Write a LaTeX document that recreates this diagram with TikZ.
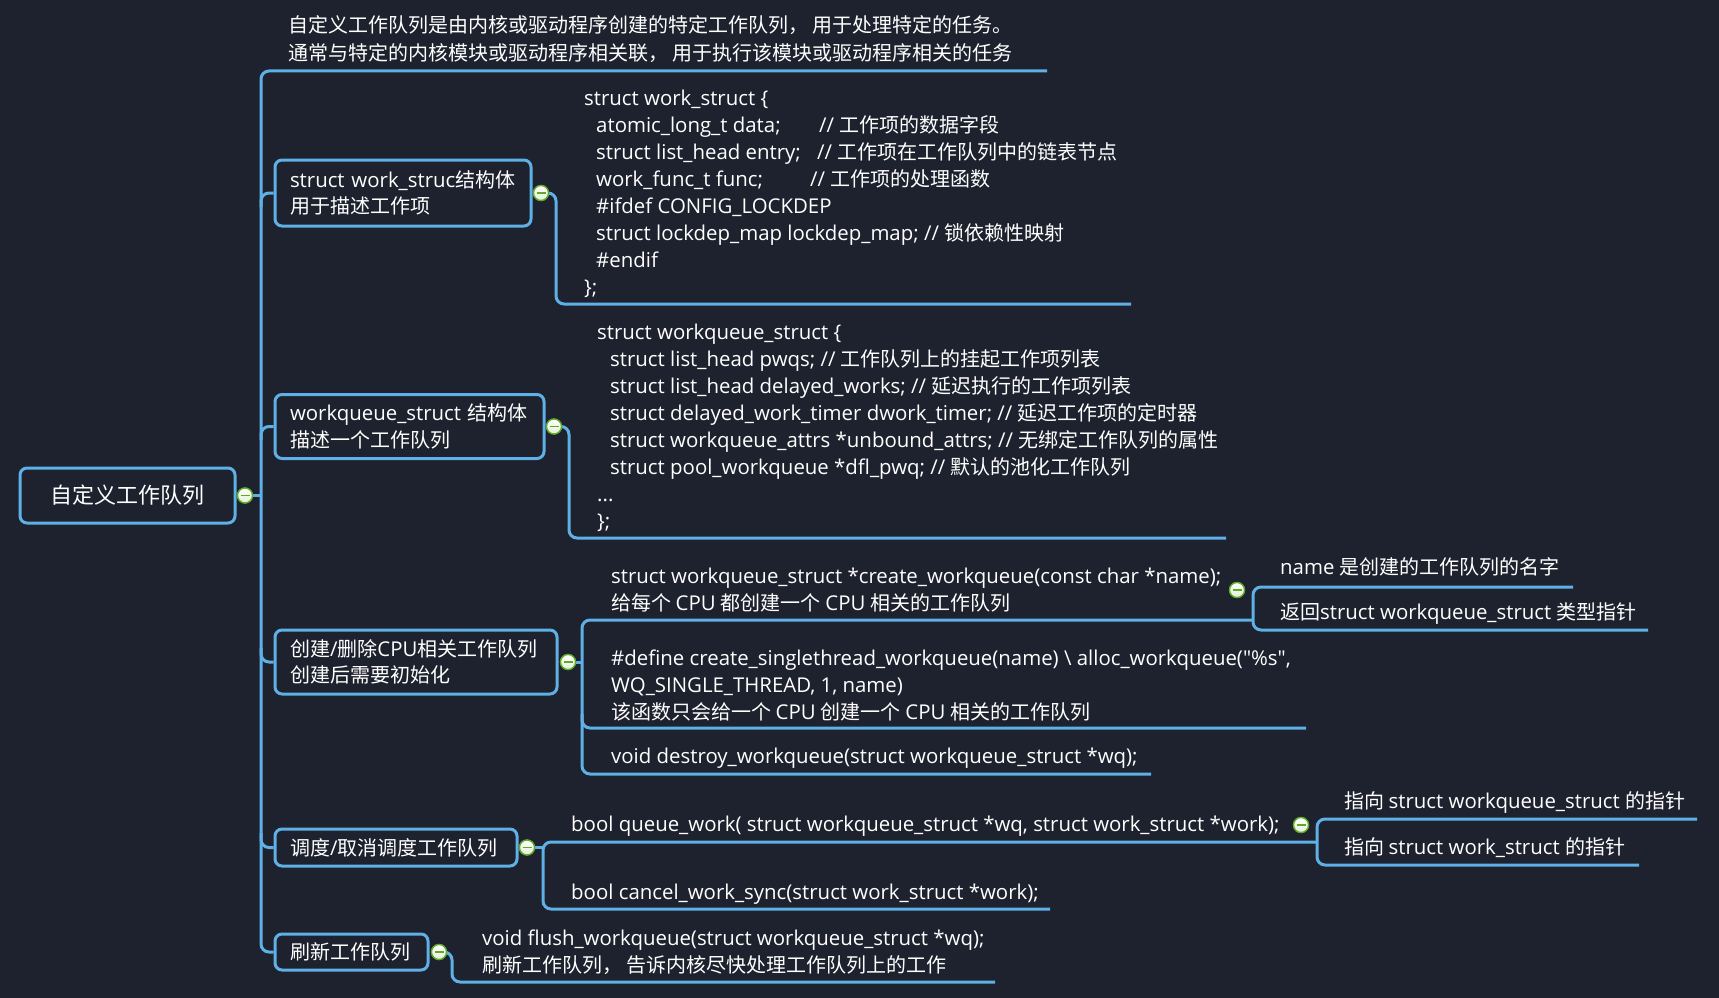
\documentclass[tikz,border=0pt]{standalone}
\usepackage{fontspec}
\setmainfont{Open Sans}[Scale=1.02]
\newfontfamily\cjkfont{Noto Sans CJK SC}
\newfontfamily\qfont{Open Sans}[Scale=1.02]
\XeTeXinterchartokenstate=1
\chardef\CJKcls=42
\chardef\Qcls=43
\makeatletter
\count@="4E00
\loop\XeTeXcharclass\count@=\CJKcls\ifnum\count@<"9FFF\advance\count@\@ne\repeat
\count@="3000
\loop\XeTeXcharclass\count@=\CJKcls\ifnum\count@<"303F\advance\count@\@ne\repeat
\count@="FF00
\loop\XeTeXcharclass\count@=\CJKcls\ifnum\count@<"FFEF\advance\count@\@ne\repeat
\makeatother
\XeTeXcharclass"22=\Qcls
\XeTeXinterchartoks 0 \CJKcls = {\cjkfont}
\XeTeXinterchartoks 4095 \CJKcls = {\cjkfont}
\XeTeXinterchartoks \CJKcls 0 = {\rmfamily}
\XeTeXinterchartoks 4095 0 = {\rmfamily}
\definecolor{bg}{RGB}{30,34,46}
\definecolor{lineblue}{RGB}{94,176,230}
\definecolor{knobgreen}{RGB}{96,168,40}
\definecolor{knoblight}{RGB}{226,240,214}
\newcommand{\dq}{{\qfont\symbol{"22}}}
\begin{document}
\begin{tikzpicture}[x=1pt,y=-1pt,
  conn/.style={draw=lineblue, line width=3pt, rounded corners=8pt},
  box/.style={draw=lineblue, line width=3pt, rounded corners=7pt, inner xsep=15pt, inner ysep=0pt, align=left, text=white, font=\fontsize{20}{26.5}\selectfont},
  txt/.style={anchor=base west, inner sep=0pt, align=left, text=white, font=\fontsize{20}{27}\selectfont},
  knob/.style={circle, draw=knobgreen, line width=1.3pt, inner sep=0pt, minimum size=15pt, top color=white, bottom color=knoblight,
    path picture={\draw[knobgreen, line width=1.6pt] ([xshift=-4.5pt]path picture bounding box.center) -- ([xshift=4.5pt]path picture bounding box.center);}}]
\fill[bg] (0,0) rectangle (1719,998);
\useasboundingbox (0,0) rectangle (1719,998);

% ---------- main nodes ----------
\node[box, font=\fontsize{22}{26}\selectfont, align=center, inner xsep=0pt, minimum width=215pt, minimum height=55pt] (root) at (127.5,495.5) {自定义工作队列};
\node[box, minimum width=256pt, text width=226pt, minimum height=66pt] (n1) at (403,193) {\mbox{struct work\_struc结构体}\\用于描述工作项};
\node[box, minimum width=269pt, text width=239pt, minimum height=64pt] (n2) at (409.5,426.5) {\mbox{workqueue\_struct 结构体}\\描述一个工作队列};
\node[box, minimum width=282pt, text width=252pt, minimum height=64pt] (n3) at (416,662) {\mbox{创建/删除CPU相关工作队列}\\创建后需要初始化};
\node[box, minimum width=242pt, text width=212pt, minimum height=37pt] (n4) at (396,847.5) {\mbox{调度/取消调度工作队列}};
\node[box, minimum width=153pt, text width=123pt, minimum height=36pt] (n5) at (351.5,952) {\mbox{刷新工作队列}};

% ---------- named connector points ----------
\coordinate (topEnd) at (1047,71);
\coordinate (trunkTop) at (261,71);
\coordinate (trunkBot) at (261,952);
\coordinate (c1end) at (1131,304);
\coordinate (c2end) at (1226,538);
\coordinate (c3a) at (1253,620);
\coordinate (c3b) at (1306,728);
\coordinate (c3c) at (1151,774);
\coordinate (s3a) at (1573,587);
\coordinate (s3b) at (1648,630);
\coordinate (c4a) at (1317,842);
\coordinate (c4b) at (1050,909);
\coordinate (s4a) at (1697,819);
\coordinate (s4b) at (1639,865);
\coordinate (c5end) at (995,982);

% ---------- trunk ----------
\draw[conn] (topEnd) -- (trunkTop) -- (trunkBot) -- (n5.west);
\draw[conn] (261,207) -- (261,193) -- (n1.west);
\draw[conn] (261,440) -- (261,426.5) -- (n2.west);
\draw[conn] (261,648) -- (261,662) -- (n3.west);
\draw[conn] (261,833) -- (261,847.5) -- (n4.west);
\draw[conn] (root.east) -- (261,495.5);

% ---------- knobs ----------
\node[knob] (k0) at (245,495.5) {};
\node[knob] (k1) at (541,193) {};
\node[knob] (k2) at (554,426.5) {};
\node[knob] (k3) at (568,662) {};
\node[knob] (k4) at (527,847.5) {};
\node[knob] (k5) at (439,952) {};
\node[knob] (k3a) at (1237,590) {};
\node[knob] (k4a) at (1301,825) {};

% ---------- child connectors ----------
\draw[conn] (k1.east) -- (556,193) -- (556,304) -- (c1end);
\draw[conn] (k2.east) -- (569,426.5) -- (569,538) -- (c2end);
\draw[conn] (k3.east) -- (582,662);
\draw[conn] (c3a) -- (582,620) -- (582,774) -- (c3c);
\draw[conn] (582,714) -- (582,728) -- (c3b);
\draw[conn] (s3a) -- (1253,587) -- (1253,630) -- (s3b);
\draw[conn] (k4.east) -- (543,847.5);
\draw[conn] (c4a) -- (543,842) -- (543,909) -- (c4b);
\draw[conn] (s4a) -- (1317,819) -- (1317,865) -- (s4b);
\draw[conn] (k5.east) -- (452,952) -- (452,982) -- (c5end);

% ---------- texts (anchor = baseline of last line) ----------
\node[txt, font=\fontsize{20}{28}\selectfont] (top) at (288,60) {自定义工作队列是由内核或驱动程序创建的特定工作队列， 用于处理特定的任务。\\通常与特定的内核模块或驱动程序相关联， 用于执行该模块或驱动程序相关的任务};

\node[txt] (t1) at (584,294) {struct work\_struct \{\\
\hspace*{12pt}\makebox[223pt][l]{atomic\_long\_t data;}// 工作项的数据字段\\
\hspace*{12pt}\makebox[221pt][l]{struct list\_head entry;}// 工作项在工作队列中的链表节点\\
\hspace*{12pt}\makebox[214pt][l]{work\_func\_t func;}// 工作项的处理函数\\
\hspace*{12pt}\#ifdef CONFIG\_LOCKDEP\\
\hspace*{12pt}struct lockdep\_map lockdep\_map; // 锁依赖性映射\\
\hspace*{12pt}\#endif\\
\};};

\node[txt] (t2) at (597,528) {struct workqueue\_struct \{\\
\hspace*{13pt}struct list\_head pwqs; // 工作队列上的挂起工作项列表\\
\hspace*{13pt}struct list\_head delayed\_works; // 延迟执行的工作项列表\\
\hspace*{13pt}struct delayed\_work\_timer dwork\_timer; // 延迟工作项的定时器\\
\hspace*{13pt}struct workqueue\_attrs *unbound\_attrs; // 无绑定工作队列的属性\\
\hspace*{13pt}struct pool\_workqueue *dfl\_pwq; // 默认的池化工作队列\\
...\\
\};};

\node[txt] (t3a) at (611,610) {struct workqueue\_struct *create\_workqueue(const char *name);\\给每个 CPU 都创建一个 CPU 相关的工作队列};
\node[txt] (t3b) at (611,719) {\#define create\_singlethread\_workqueue(name) \textbackslash{} alloc\_workqueue(\dq\%s\dq,\\WQ\_SINGLE\_THREAD, 1, name)\\该函数只会给一个 CPU 创建一个 CPU 相关的工作队列};
\node[txt] (t3c) at (611,763) {void destroy\_workqueue(struct workqueue\_struct *wq);};
\node[txt] (u3a) at (1280,574) {name 是创建的工作队列的名字};
\node[txt] (u3b) at (1280,619) {返回struct workqueue\_struct 类型指针};

\node[txt] (t4a) at (571,831) {bool queue\_work( struct workqueue\_struct *wq, struct work\_struct *work);};
\node[txt] (t4b) at (571,899) {bool cancel\_work\_sync(struct work\_struct *work);};
\node[txt] (u4a) at (1344,808) {指向 struct workqueue\_struct 的指针};
\node[txt] (u4b) at (1344,854) {指向 struct work\_struct 的指针};

\node[txt] (t5) at (482,972) {void flush\_workqueue(struct workqueue\_struct *wq);\\刷新工作队列， 告诉内核尽快处理工作队列上的工作};

% redraw knobs on top
\foreach \k in {k0,k1,k2,k3,k4,k5,k3a,k4a}{\node[knob] at (\k) {};}
\end{tikzpicture}
\end{document}
